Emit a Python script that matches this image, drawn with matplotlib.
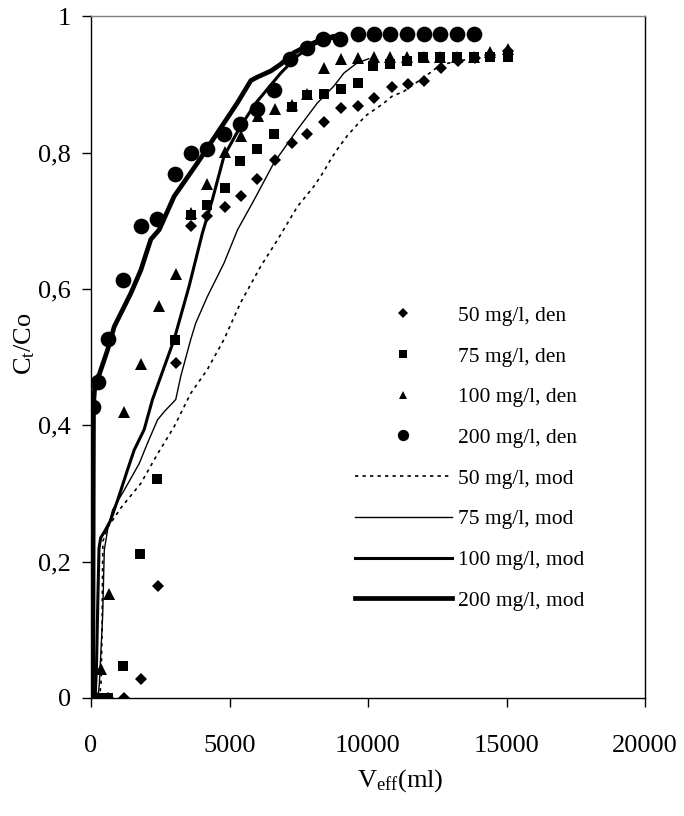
import numpy as np
import matplotlib
matplotlib.use('Agg')
import matplotlib.pyplot as plt

plt.rcParams['font.family'] = ['Liberation Serif', 'DejaVu Serif']
plt.rcParams['mathtext.fontset'] = 'custom'
plt.rcParams['mathtext.rm'] = 'Liberation Serif'
plt.rcParams['mathtext.it'] = 'Liberation Serif:italic'

# measured data (den) - effluent volume (ml) vs Ct/Co
v_50 = [0, 240, 600, 1180, 1800, 2420, 3060, 3600, 4200, 4830, 5400, 6000, 6640, 7240,
        7810, 8410, 9040, 9650, 10210, 10850, 11450, 12010, 12640, 13250, 13870, 14410, 15040]
c_50 = [0, 0, 0, 0, 0.028, 0.165, 0.491, 0.692, 0.707, 0.72, 0.736, 0.762, 0.789, 0.814,
        0.828, 0.845, 0.866, 0.869, 0.881, 0.896, 0.901, 0.905, 0.925, 0.934, 0.939, 0.944, 0.949]

v_75 = [0, 240, 600, 1170, 1780, 2400, 3040, 3600, 4200, 4830, 5380, 6000, 6600, 7240,
        7800, 8400, 9030, 9640, 10190, 10810, 11410, 12000, 12610, 13210, 13810, 14410, 15040]
c_75 = [0, 0, 0, 0.047, 0.211, 0.322, 0.525, 0.709, 0.724, 0.748, 0.788, 0.806, 0.827, 0.867,
        0.885, 0.887, 0.893, 0.902, 0.928, 0.93, 0.934, 0.941, 0.941, 0.941, 0.941, 0.941, 0.941]

v_100 = [0, 120, 360, 660, 1200, 1810, 2440, 3060, 3600, 4200, 4840, 5400, 6040, 6640,
         7240, 7810, 8410, 9040, 9650, 10230, 10810, 11410, 12010, 12610, 13210, 13810, 14410, 15040]
c_100 = [0, 0, 0.043, 0.153, 0.42, 0.49, 0.575, 0.622, 0.712, 0.754, 0.801, 0.825, 0.854, 0.864,
         0.87, 0.887, 0.925, 0.938, 0.939, 0.94, 0.94, 0.94, 0.94, 0.94, 0.94, 0.94, 0.948, 0.952]

v_200 = [60, 240, 625, 1165, 1800, 2400, 3030, 3600, 4180, 4800, 5370, 6000, 6600, 7180,
         7780, 8380, 8990, 9630, 10200, 10810, 11410, 12010, 12610, 13210, 13810]
c_200 = [0.427, 0.464, 0.527, 0.614, 0.692, 0.703, 0.769, 0.8, 0.805, 0.827, 0.842, 0.864, 0.892, 0.938,
         0.954, 0.967, 0.967, 0.975, 0.975, 0.975, 0.975, 0.975, 0.975, 0.975, 0.975]

# model curves (mod)
mv_50 = [0, 300, 360, 400, 420, 430, 600, 1080, 1800, 2400, 3000, 3600, 4200, 4800, 5400, 6120,
         6730, 7450, 8050, 8410, 8650, 8890, 9250, 9670, 9970, 10510, 10870, 11290, 11710,
         12130, 12610, 13300, 14000]
mc_50 = [0, 0, 0.02, 0.1, 0.2, 0.23, 0.25, 0.279, 0.315, 0.358, 0.398, 0.447, 0.482, 0.526, 0.58, 0.633,
         0.672, 0.721, 0.751, 0.773, 0.79, 0.805, 0.825, 0.844, 0.856, 0.871, 0.883, 0.89, 0.902,
         0.914, 0.929, 0.935, 0.94]

mv_75 = [0, 250, 300, 360, 420, 480, 600, 780, 1200, 1740, 2040, 2400, 2640, 3060, 3240, 3600,
         3780, 4200, 4800, 5290, 5890, 6600, 7450, 8170, 8770, 9130, 9610, 10030]
mc_75 = [0, 0, 0.02, 0.07, 0.12, 0.217, 0.247, 0.276, 0.305, 0.344, 0.374, 0.408, 0.42, 0.438, 0.472, 0.526,
         0.55, 0.589, 0.638, 0.687, 0.731, 0.785, 0.834, 0.873, 0.898, 0.917, 0.932, 0.938]

mv_100 = [0, 150, 200, 250, 290, 350, 500, 700, 1000, 1320, 1560, 1920, 2220, 3000, 3540, 4020,
          4380, 4800, 5400, 5950, 6850, 7450, 8050, 8600, 9000]
mc_100 = [0, 0, 0.05, 0.15, 0.22, 0.235, 0.245, 0.26, 0.295, 0.335, 0.364, 0.394, 0.438, 0.526, 0.604, 0.682,
          0.731, 0.795, 0.839, 0.873, 0.917, 0.942, 0.959, 0.967, 0.970]

mv_200 = [0, 50, 70, 80, 90, 150, 300, 600, 840, 1440, 1800, 2160, 2460, 3000, 3840, 4560, 5280,
          5770, 6000, 6490, 6850, 7330, 7810, 8290, 8770, 9000]
mc_200 = [0, 0, 0.1, 0.3, 0.43, 0.465, 0.475, 0.511, 0.545, 0.594, 0.628, 0.673, 0.687, 0.736, 0.785,
          0.829, 0.873, 0.906, 0.911, 0.92, 0.93, 0.947, 0.957, 0.966, 0.971, 0.971]

xticks = [0, 5000, 10000, 15000, 20000]
yticks = [0, 0.2, 0.4, 0.6, 0.8, 1.0]
ytick_labels = ['0', '0,2', '0,4', '0,6', '0,8', '1']

fig = plt.figure(figsize=(6.84, 8.16), dpi=100)
ax = fig.add_axes([91/684, 1 - 698/816, 554/684, 681.5/816])

ax.plot(v_50, c_50, 'D', color='k', ms=6.5, mew=0, label='50 mg/l, den')
ax.plot(v_75, c_75, 's', color='k', ms=7.2, mew=0, label='75 mg/l, den')
ax.plot(v_100, c_100, '^', color='k', ms=8.8, mew=0, label='100 mg/l, den')
ax.plot(v_200, c_200, 'o', color='k', ms=11.3, mew=0, label='200 mg/l, den')

ax.plot(mv_50, mc_50, color='k', lw=1.2, linestyle=(0, (2, 2.5)), label='50 mg/l, mod')
ax.plot(mv_75, mc_75, color='k', lw=1.0, label='75 mg/l, mod')
ax.plot(mv_100, mc_100, color='k', lw=2.2, label='100 mg/l, mod')
ax.plot(mv_200, mc_200, color='k', lw=3.4, label='200 mg/l, mod')

ax.set_xlim(0, 20000)
ax.set_ylim(0, 1)
ax.set_xticks(xticks)
ax.set_xticklabels([str(t) for t in xticks])
ax.set_yticks(yticks)
ax.set_yticklabels(ytick_labels)
ax.tick_params(axis='both', direction='out', length=6.5, width=1, labelsize=19, color='k')
ax.tick_params(axis='x', pad=20)
ax.tick_params(axis='y', pad=8)

for s in ['left', 'bottom', 'right']:
    ax.spines[s].set_linewidth(1)
    ax.spines[s].set_color('k')
ax.spines['top'].set_linewidth(1)
ax.spines['top'].set_color('#808080')

ax.set_xlabel('V$_{\\rm eff}$(ml)', fontsize=19)
ax.xaxis.set_label_coords(0.558, -0.102)
ax.set_ylabel('C$_{\\rm t}$/Co', fontsize=19)
ax.yaxis.set_label_coords(-0.097, 0.52)

ax.legend(loc='upper left', bbox_to_anchor=(0.4765, 0.5756), frameon=False, fontsize=15.5,
          handlelength=4.5, handletextpad=0.3, markerscale=0.72, borderpad=0,
          labelspacing=0.96, borderaxespad=0)

fig.savefig('out.png', dpi=100)
